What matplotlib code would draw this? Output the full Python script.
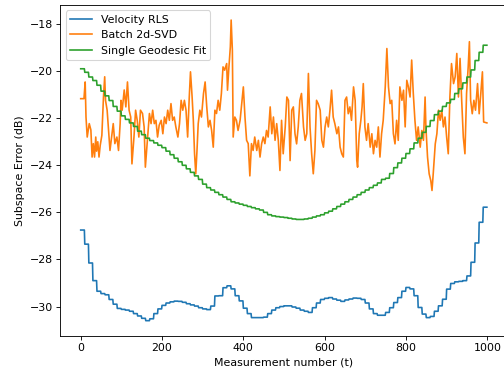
import numpy as np
import matplotlib
matplotlib.use("Agg")
import matplotlib.pyplot as plt

rls_blocks = [
    -26.75, -27.35, -28.15, -28.90, -29.35, -29.45, -29.50, -29.70, -29.90, -30.08,
    -30.12, -30.15, -30.20, -30.30, -30.40, -30.50, -30.60, -30.52, -30.30, -30.10,
    -29.95, -29.85, -29.80, -29.77, -29.78, -29.82, -29.88, -29.93, -29.98, -30.05,
    -30.10, -30.13, -29.98, -29.55, -29.54, -29.20, -29.12, -29.25, -29.54, -29.76,
    -30.07, -30.30, -30.47, -30.47, -30.47, -30.45, -30.30, -30.15, -30.05, -30.00,
    -29.97, -29.97, -30.02, -30.07, -30.15, -30.20, -30.25, -30.05, -29.85, -29.70,
    -29.65, -29.62, -29.68, -29.73, -29.78, -29.72, -29.68, -29.64, -29.65, -29.70,
    -29.85, -30.10, -30.30, -30.37, -30.37, -30.25, -30.05, -29.83, -29.62, -29.35,
    -29.19, -29.25, -29.54, -30.04, -30.32, -30.47, -30.42, -30.20, -29.97, -29.69,
    -29.26, -29.02, -28.95, -28.93, -28.90, -28.70, -28.12, -27.30, -26.42, -25.78,
]

geo_blocks = [
    -19.90, -20.05, -20.25, -20.40, -20.60, -20.85, -21.05, -21.25, -21.50, -21.70,
    -21.90, -22.05, -22.20, -22.35, -22.55, -22.70, -22.85, -22.95, -23.05, -23.15,
    -23.25, -23.40, -23.55, -23.70, -23.85, -24.00, -24.15, -24.30, -24.45, -24.60,
    -24.80, -24.95, -25.05, -25.15, -25.25, -25.35, -25.45, -25.55, -25.60, -25.65,
    -25.70, -25.75, -25.80, -25.85, -25.90, -26.00, -26.10, -26.15, -26.18, -26.20,
    -26.22, -26.25, -26.28, -26.30, -26.30, -26.28, -26.25, -26.20, -26.15, -26.10,
    -26.02, -25.95, -25.85, -25.75, -25.65, -25.55, -25.45, -25.35, -25.25, -25.15,
    -25.05, -24.95, -24.85, -24.75, -24.60, -24.55, -24.35, -24.10, -23.90, -23.70,
    -23.50, -23.30, -23.05, -22.85, -22.60, -22.35, -22.10, -21.85, -21.70, -21.50,
    -21.35, -21.20, -20.95, -20.75, -20.50, -20.25, -19.95, -19.55, -19.20, -18.90,
]

svd_t = [
    0, 8, 11, 13, 16, 21, 25, 28, 31, 34, 37, 39, 42, 45, 48, 52, 56, 59, 61, 65,
    68, 72, 76, 80, 84, 89, 93, 97, 99, 102, 107, 111, 115, 119, 123, 126, 131, 135, 139, 143,
    147, 152, 156, 159, 164, 169, 173, 177, 181, 185, 189, 193, 198, 202, 206, 210, 214, 218, 222, 226,
    230, 234, 239, 243, 247, 251, 255, 259, 263, 267, 270, 274, 277, 280, 283, 286, 289, 293, 297, 302,
    306, 310, 314, 318, 322, 326, 330, 334, 338, 342, 346, 350, 354, 359, 361, 364, 368, 370, 373, 375,
    379, 383, 387, 392, 396, 400, 404, 408, 412, 416, 420, 424, 428, 433, 437, 441, 445, 449, 453, 457,
    461, 466, 470, 474, 478, 482, 486, 490, 494, 498, 503, 507, 511, 515, 519, 523, 527, 531, 535, 539,
    543, 548, 552, 556, 560, 564, 568, 572, 576, 580, 584, 589, 593, 597, 601, 605, 609, 613, 617, 621,
    625, 630, 634, 638, 642, 646, 650, 654, 658, 662, 666, 671, 675, 679, 681, 685, 689, 692, 695, 699,
    703, 707, 712, 716, 720, 724, 728, 732, 736, 740, 744, 749, 753, 757, 761, 765, 769, 773, 777, 781,
    785, 790, 794, 798, 802, 806, 810, 814, 818, 822, 826, 830, 835, 839, 843, 847, 849, 853, 857, 861,
    864, 867, 872, 876, 880, 884, 888, 892, 896, 900, 904, 908, 912, 917, 921, 925, 929, 933, 937, 941,
    945, 949, 953, 956, 959, 963, 967, 971, 976, 980, 984, 988, 991, 999,
]
svd_err = [
    -21.17, -21.17, -20.46, -21.95, -22.80, -22.23, -22.50, -23.65, -23.08, -23.65,
    -22.80, -23.40, -23.00, -23.65, -23.15, -22.73, -21.10, -20.24, -21.24, -21.66,
    -22.37, -23.37, -22.80, -22.23, -23.08, -22.80, -23.37, -22.23, -21.24, -21.66,
    -20.80, -21.52, -20.46, -21.66, -21.95, -23.94, -22.80, -21.66, -22.09, -22.80,
    -21.66, -21.80, -22.37, -24.08, -22.94, -21.80, -22.23, -21.66, -22.23, -22.09,
    -22.80, -22.30, -22.09, -22.66, -21.95, -22.23, -21.66, -22.09, -21.38, -22.09,
    -21.95, -22.37, -22.80, -22.23, -21.24, -21.66, -21.24, -21.66, -22.80, -21.10,
    -20.03, -21.10, -22.09, -23.51, -24.36, -23.37, -22.23, -21.66, -21.95, -20.95,
    -20.46, -21.52, -22.37, -22.09, -22.52, -23.23, -21.66, -21.80, -21.24, -21.66,
    -20.95, -19.82, -19.96, -19.68, -20.81, -19.96, -18.97, -17.83, -19.11, -22.80,
    -21.95, -22.09, -22.52, -22.09, -21.38, -20.67, -21.95, -22.94, -23.08, -24.45,
    -23.08, -23.37, -22.80, -23.37, -22.94, -23.65, -23.08, -22.80, -23.08, -22.52,
    -22.80, -21.52, -22.66, -21.95, -22.94, -22.23, -22.94, -24.22, -22.09, -23.51,
    -22.37, -21.10, -21.24, -23.80, -21.66, -21.52, -22.66, -23.09, -22.37, -21.24,
    -20.95, -22.37, -22.94, -22.66, -20.10, -22.37, -23.51, -24.36, -23.37, -21.24,
    -21.38, -21.66, -22.94, -23.23, -22.37, -21.95, -22.37, -21.66, -20.81, -21.95,
    -22.23, -22.66, -22.37, -23.23, -23.51, -23.65, -21.24, -21.10, -21.81, -21.52,
    -22.09, -20.67, -21.24, -23.80, -24.08, -22.66, -22.09, -21.52, -20.53, -22.37,
    -22.94, -22.23, -23.23, -22.66, -23.51, -22.94, -23.23, -22.37, -23.65, -22.66,
    -22.09, -20.67, -19.04, -20.67, -21.38, -21.24, -22.66, -23.09, -22.09, -22.94,
    -20.67, -21.24, -20.81, -22.37, -20.39, -20.67, -21.10, -19.53, -20.95, -22.09,
    -22.94, -22.37, -23.23, -22.52, -22.94, -21.10, -22.37, -23.65, -24.36, -24.65,
    -25.07, -24.36, -23.09, -22.66, -21.66, -22.09, -21.66, -22.37, -21.95, -22.80,
    -23.51, -21.10, -19.68, -20.53, -20.24, -19.25, -21.10, -19.46, -21.24, -22.80,
    -23.51, -20.95, -19.82, -18.75, -21.24, -21.81, -21.24, -21.66, -20.53, -21.81,
    -20.95, -20.03, -22.16, -22.20,
]

t = np.arange(1000)
rls = np.repeat(rls_blocks, 10)
geo = np.repeat(geo_blocks, 10)

# original looks like a 6.4in wide figure saved at a low dpi
dpi = 78.75
fig = plt.figure(figsize=(504 / dpi, 375 / dpi), dpi=dpi)
ax = fig.add_axes([60.4 / 504, (375 - 335.7) / 375, 446.8 / 504, 330.7 / 375])

ax.plot(t, rls, label="Velocity RLS")
ax.plot(svd_t, svd_err, label="Batch 2d-SVD")
ax.plot(t, geo, label="Single Geodesic Fit")

ax.set_xlabel("Measurement number (t)")
ax.set_ylabel("Subspace Error (dB)")
ax.legend(loc="upper left")

fig.savefig("out.png", dpi=dpi)
